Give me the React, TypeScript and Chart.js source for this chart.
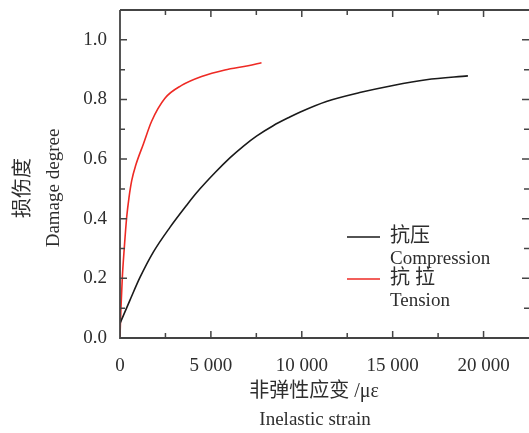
import React, { useEffect, useRef } from "react";
import { Chart, registerables } from "chart.js";

Chart.register(...registerables);

const compressionStrain = [0, 549, 1099, 1832, 2747, 3663, 4212, 5220, 6044, 6777, 7509, 8425, 9341, 9890, 11355, 13187, 15018, 16850, 19139];
const compressionDamage = [0.049, 0.127, 0.203, 0.288, 0.371, 0.445, 0.487, 0.554, 0.604, 0.643, 0.677, 0.712, 0.741, 0.757, 0.793, 0.823, 0.847, 0.866, 0.879];

const tensionStrain = [0, 55, 128, 238, 366, 495, 641, 870, 1282, 1740, 2473, 3388, 4487, 5769, 7051, 7784];
const tensionDamage = [0.004, 0.104, 0.204, 0.304, 0.404, 0.471, 0.527, 0.58, 0.65, 0.727, 0.804, 0.847, 0.877, 0.899, 0.913, 0.923];

const xTickValues = [0, 5000, 10000, 15000, 20000];
const yTickValues = [0, 0.2, 0.4, 0.6, 0.8, 1.0];

const seriesNames = ["抗压", "抗 拉"];
const seriesNamesEn = ["Compression", "Tension"];
const seriesColors = ["#1a1a1a", "#ee2a24"];

const yTitleZh = "损伤度";
const yTitleEn = "Damage degree";
const xTitleZh = "非弹性应变 /με";
const xTitleEn = "Inelastic strain";

const X_MAX = 22500;
const Y_MAX = 1.1;

const SERIF = '"Liberation Serif", "Noto Sans CJK SC", serif';
const TEXT = "#2e2e2e";

const framePlugin = {
  id: "frame",
  afterDraw(chart: any) {
    const { ctx, chartArea, scales } = chart;
    const { left, right, top, bottom } = chartArea;
    const xs = scales.x;
    const ys = scales.y;
    ctx.save();
    ctx.strokeStyle = "#444";
    ctx.lineWidth = 1.8;
    ctx.beginPath();
    ctx.moveTo(left, top);
    ctx.lineTo(left, bottom);
    ctx.lineTo(right + 2, bottom);
    ctx.moveTo(left, top);
    ctx.lineTo(right + 2, top);
    ctx.stroke();

    ctx.lineWidth = 1.5;
    ctx.beginPath();
    for (let v = 2500; v <= X_MAX; v += 2500) {
      const px = xs.getPixelForValue(v);
      if (px > right - 1) continue;
      const len = v % 5000 === 0 ? 7 : 5;
      ctx.moveTo(px, bottom);
      ctx.lineTo(px, bottom - len);
      ctx.moveTo(px, top);
      ctx.lineTo(px, top + len);
    }
    for (let i = 1; i <= 10; i++) {
      const v = i / 10;
      const py = ys.getPixelForValue(v);
      const len = i % 2 === 0 ? 7 : 5;
      ctx.moveTo(left, py);
      ctx.lineTo(left + len, py);
      ctx.moveTo(right, py);
      ctx.lineTo(right - len, py);
    }
    ctx.stroke();

    // axis titles
    ctx.fillStyle = TEXT;
    ctx.textAlign = "center";
    ctx.textBaseline = "middle";
    ctx.save();
    ctx.translate(24, 188);
    ctx.rotate(-Math.PI / 2);
    ctx.font = `20px ${SERIF}`;
    ctx.fillText(yTitleZh, 0, 0);
    ctx.restore();
    ctx.save();
    ctx.translate(54, 188);
    ctx.rotate(-Math.PI / 2);
    ctx.font = `19px ${SERIF}`;
    ctx.fillText(yTitleEn, 0, 0);
    ctx.restore();

    ctx.font = `20px ${SERIF}`;
    ctx.fillText(xTitleZh, 314, 392);
    ctx.font = `19px ${SERIF}`;
    ctx.fillText(xTitleEn, 315, 420);

    // legend
    const legendY = [237, 279];
    ctx.textAlign = "left";
    for (let i = 0; i < seriesNames.length; i++) {
      const y = legendY[i];
      ctx.strokeStyle = seriesColors[i];
      ctx.lineWidth = 1.5;
      ctx.beginPath();
      ctx.moveTo(347, y);
      ctx.lineTo(380, y);
      ctx.stroke();
      ctx.fillStyle = TEXT;
      ctx.font = `20px ${SERIF}`;
      ctx.fillText(seriesNames[i], 390, y);
      ctx.font = `19px ${SERIF}`;
      ctx.fillText(seriesNamesEn[i], 390, y + 22);
    }
    ctx.restore();
  },
};

export default function App() {
  const ref = useRef<HTMLCanvasElement | null>(null);
  useEffect(() => {
    if (!ref.current) return;
    const chart = new Chart(ref.current, {
      type: "line",
      data: {
        datasets: [
          {
            label: seriesNamesEn[0],
            data: compressionStrain.map((x, i) => ({ x, y: compressionDamage[i] })),
            borderColor: seriesColors[0],
            borderWidth: 1.6,
            pointRadius: 0,
            cubicInterpolationMode: "monotone",
            fill: false,
          },
          {
            label: seriesNamesEn[1],
            data: tensionStrain.map((x, i) => ({ x, y: tensionDamage[i] })),
            borderColor: seriesColors[1],
            borderWidth: 1.6,
            pointRadius: 0,
            cubicInterpolationMode: "monotone",
            fill: false,
          },
        ],
      },
      options: {
        responsive: false,
        animation: false,
        layout: { padding: { left: 0, top: 10, right: 0, bottom: 0 } },
        plugins: { legend: { display: false }, tooltip: { enabled: false } },
        scales: {
          x: {
            type: "linear",
            min: 0,
            max: X_MAX,
            grid: { display: false },
            border: { display: false },
            afterBuildTicks: (s: any) => {
              s.ticks = xTickValues.map((value) => ({ value }));
            },
            afterFit: (s: any) => {
              s.height = 95;
              s.paddingLeft = 0;
              s.paddingRight = 0;
              s.paddingTop = 0;
              s.paddingBottom = 0;
            },
            ticks: {
              maxRotation: 0,
              autoSkip: false,
              padding: 9,
              color: TEXT,
              font: { family: SERIF, size: 19 },
              callback: (v: any) => {
                const n = Number(v);
                if (n < 1000) return String(n);
                const s = String(n);
                return s.slice(0, s.length - 3) + " " + s.slice(-3);
              },
            },
          },
          y: {
            type: "linear",
            min: 0,
            max: Y_MAX,
            grid: { display: false },
            border: { display: false },
            afterBuildTicks: (s: any) => {
              s.ticks = yTickValues.map((value) => ({ value }));
            },
            afterFit: (s: any) => {
              s.width = 120;
              s.paddingLeft = 0;
              s.paddingRight = 0;
              s.paddingTop = 0;
              s.paddingBottom = 0;
            },
            ticks: {
              autoSkip: false,
              padding: 5,
              color: TEXT,
              font: { family: SERIF, size: 19 },
              callback: (v: any) => Number(v).toFixed(1),
            },
          },
        },
      },
      plugins: [framePlugin],
    });
    return () => chart.destroy();
  }, []);
  return (
    <div style={{ position: "absolute", left: 0, top: 0, width: 529, height: 433, background: "#fff" }}>
      <canvas ref={ref} width={529} height={433} style={{ width: 529, height: 433, display: "block" }} />
    </div>
  );
}
